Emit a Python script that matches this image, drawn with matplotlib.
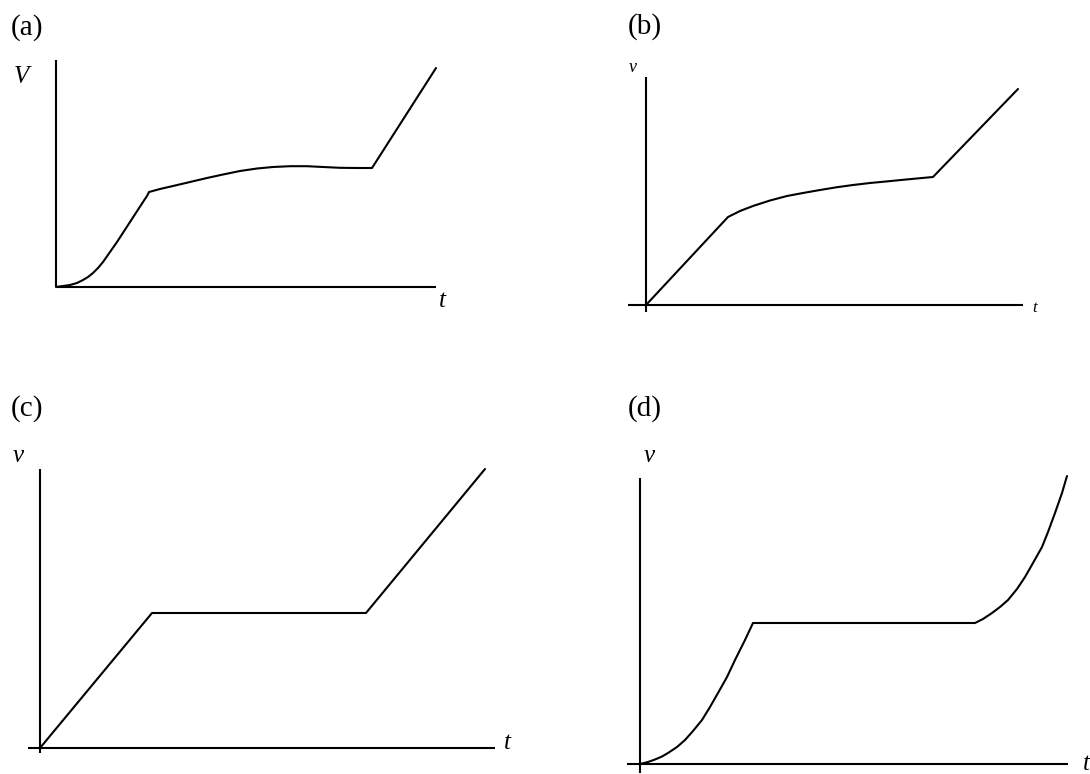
import matplotlib
matplotlib.use("Agg")
import matplotlib.pyplot as plt

# ------------------------------------------------------------------------------
# Velocity-time sketches (arbitrary units, 1 unit = 10 px)
# ------------------------------------------------------------------------------

# (a) smooth start, slow rise, then steep straight line
t_a = [0, 0.7, 1.4, 2.1, 2.7, 3.2, 3.7, 4.2, 4.7, 5.4, 6.1, 7.4, 8.7, 9.1, 9.3,
       10.4, 11.7, 13.4, 15.1, 16.7, 18.4, 20.1, 21.7, 23.4, 25.1, 26.7, 28.4,
       30.1, 31.6, 38.0]
v_a = [0, 0.1, 0.2, 0.4, 0.7, 1.0, 1.4, 1.9, 2.5, 3.5, 4.5, 6.5, 8.5, 9.1, 9.5,
       9.8, 10.1, 10.5, 10.9, 11.25, 11.6, 11.85, 12.0, 12.08, 12.08, 12.0,
       11.92, 11.9, 11.9, 21.9]

# (b) linear, concave, linear
t_b = [0, 8.2, 9.4, 10.7, 12.4, 14.1, 15.7, 17.4, 19.1, 20.7, 22.4, 24.1,
       25.7, 27.4, 28.7, 37.2]
v_b = [0, 8.8, 9.4, 9.9, 10.45, 10.9, 11.2, 11.5, 11.78, 12.0, 12.2, 12.36,
       12.52, 12.68, 12.8, 21.6]

# (c) linear, constant, linear
t_c = [0, 11.2, 32.6, 44.5]
v_c = [0, 13.5, 13.5, 27.9]

# (d) curved rise, constant, curved rise
t_d = [0, 0.8, 1.5, 2.2, 2.8, 3.7, 4.5, 5.3, 6.2, 7.0, 7.8, 8.7, 9.5, 10.5,
       11.3, 33.5, 34.3, 35.2, 36.0, 36.8, 37.7, 38.5, 39.3, 40.2, 40.8,
       41.5, 42.2, 42.7]
v_d = [0, 0.2, 0.45, 0.75, 1.1, 1.7, 2.4, 3.3, 4.4, 5.7, 7.1, 8.7, 10.4, 12.4,
       14.1, 14.1, 14.5, 15.1, 15.7, 16.4, 17.5, 18.7, 20.1, 21.7, 23.2,
       25.1, 27.1, 28.8]

# Axis extents per panel: (t_min, t_max, v_min, v_max)
AXES_A = (0, 38.0, 0, 22.7)
AXES_B = (-1.8, 37.7, -0.7, 22.8)
AXES_C = (-1.2, 45.5, -0.5, 27.9)
AXES_D = (-1.3, 42.8, -0.9, 28.6)

# ------------------------------------------------------------------------------
# Layout
# ------------------------------------------------------------------------------

W, H = 1090, 774
SCALE = 10.0  # px per unit
SERIF = "Liberation Serif"
LW = 1.5

fig = plt.figure(figsize=(W / 100, H / 100), dpi=100)


def panel_axes(ox, oy):
    """Transparent full-figure axes whose data origin sits at pixel (ox, oy)."""
    ax = fig.add_axes([0, 0, 1, 1])
    ax.set_xlim(-ox / SCALE, (W - ox) / SCALE)
    ax.set_ylim(-(H - oy) / SCALE, oy / SCALE)
    ax.patch.set_alpha(0)
    ax.axis("off")
    return ax


def draw_panel(ax, t, v, extents, vlabel, vpos, vsize, tpos, tsize):
    t0, t1, v0, v1 = extents
    ax.plot([t0, t1], [0, 0], color="black", lw=LW, solid_capstyle="butt")
    ax.plot([0, 0], [v0, v1], color="black", lw=LW, solid_capstyle="butt")
    ax.plot(t, v, color="black", lw=LW, solid_joinstyle="round",
            solid_capstyle="round")
    ax.text(*vpos, vlabel, family=SERIF, style="italic", fontsize=vsize,
            ha="center", va="center")
    ax.text(*tpos, "t", family=SERIF, style="italic", fontsize=tsize,
            ha="center", va="center")


ax_a = panel_axes(56, 287)
draw_panel(ax_a, t_a, v_a, AXES_A, "V", (-3.5, 21.0), 18, (38.6, -1.4), 18)

ax_b = panel_axes(646, 305)
draw_panel(ax_b, t_b, v_b, AXES_B, "v", (-1.3, 23.8), 13, (38.9, -0.3), 12)

ax_c = panel_axes(40, 748)
draw_panel(ax_c, t_c, v_c, AXES_C, "v", (-2.2, 29.2), 18, (46.7, 0.5), 18)

ax_d = panel_axes(640, 764)
draw_panel(ax_d, t_d, v_d, AXES_D, "v", (0.9, 30.8), 18, (44.6, 0.0), 18)

# Panel letters
for label, x, y in [("(a)", 27, 28), ("(b)", 645, 27), ("(c)", 27, 409), ("(d)", 645, 409)]:
    fig.text(x / W, 1 - y / H, label, family=SERIF, fontsize=21,
             ha="center", va="center")

fig.savefig("out.png", dpi=100, facecolor="white")
